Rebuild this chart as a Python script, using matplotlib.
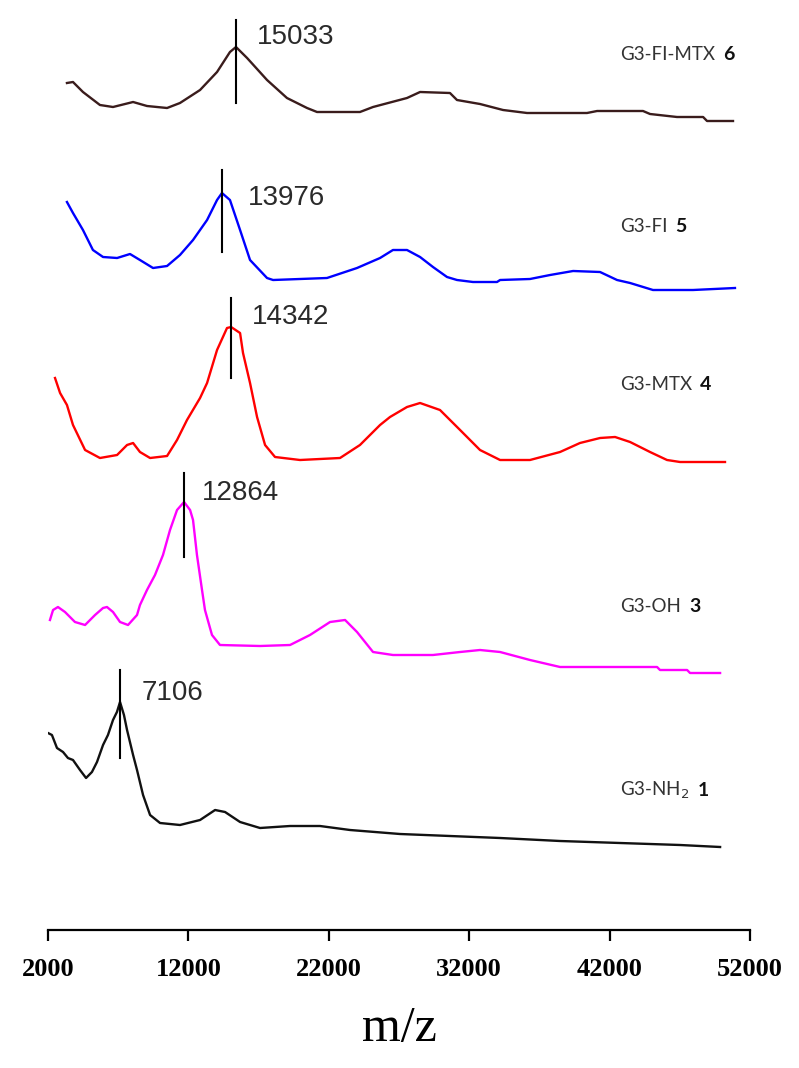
import matplotlib
matplotlib.use("Agg")
import matplotlib.pyplot as plt

# m/z and relative intensity (arbitrary units above each trace's floor)
mz_6 = [3350, 3780, 4490, 5700, 6630, 8060, 9050, 10480, 11400, 12830, 14040, 14960,
        15390, 16180, 17600, 19020, 20450, 21160, 24220, 25150, 27570, 28500, 30630,
        31130, 32770, 34410, 36120, 40390, 41110, 44380, 44880, 46800, 48660, 48940, 50790]
int_6 = [38, 39, 29, 16, 14, 19, 15, 13, 18, 31, 49, 69,
         74, 63, 41, 23, 13, 9, 9, 14, 23, 29, 28,
         21, 17, 11, 8, 8, 10, 10, 7, 4, 4, 0, 0]

mz_5 = [3350, 3780, 4490, 5200, 5920, 6920, 7840, 8550, 9480, 10480, 11400, 12330,
        13330, 14040, 14390, 14960, 15680, 16390, 17600, 18030, 21870, 24010, 25650,
        26570, 27570, 28500, 29420, 30420, 31130, 32270, 33980, 34200, 36330, 37760,
        39400, 41320, 42530, 43460, 45090, 47940, 50930]
int_5 = [88, 77, 60, 40, 33, 32, 36, 30, 22, 24, 35, 50,
         70, 90, 97, 90, 60, 30, 12, 10, 12, 22, 32,
         40, 40, 33, 23, 13, 10, 8, 8, 10, 11, 15,
         19, 18, 10, 7, 0, 0, 2]

mz_4 = [2500, 2860, 3350, 3780, 4640, 5700, 6920, 7630, 8060, 8550, 9270, 10480,
        11190, 11900, 12830, 13330, 14040, 14750, 15040, 15680, 15890, 16390, 16890,
        17460, 18170, 19950, 22800, 24220, 25650, 26360, 27570, 28500, 29920, 31350,
        32770, 34200, 36330, 38470, 39890, 41320, 42390, 43460, 44880, 46090, 47020, 50220]
int_4 = [84, 69, 57, 37, 12, 4, 7, 17, 19, 10, 4, 6,
         22, 42, 64, 79, 112, 134, 135, 129, 109, 79, 45,
         17, 5, 2, 4, 17, 37, 45, 55, 59, 52, 32,
         12, 2, 2, 10, 19, 24, 25, 20, 10, 2, 0, 0]

mz_3 = [2140, 2360, 2710, 3210, 3920, 4640, 5350, 5920, 6200, 6630, 7130, 7700,
        8340, 8550, 9050, 9620, 10190, 10690, 11190, 11690, 12120, 12330, 12610,
        12970, 13180, 13680, 14250, 17100, 19240, 20660, 22090, 23160, 24010, 25150,
        26570, 29420, 31350, 32770, 34200, 36330, 38470, 45380, 45590, 47520, 47730, 49870]
int_3 = [53, 63, 66, 61, 51, 48, 58, 65, 66, 61, 51, 48,
         58, 68, 83, 98, 118, 143, 163, 171, 163, 153, 118,
         83, 63, 38, 28, 27, 28, 38, 51, 53, 41, 21,
         18, 18, 21, 23, 21, 13, 6, 6, 3, 3, 0, 0]

mz_1 = [2000, 2280, 2640, 3070, 3420, 3780, 4280, 4710, 5130, 5490, 5920, 6270,
        6630, 6910, 7130, 7410, 7630, 8060, 8340, 8770, 9270, 9980, 11400, 12830,
        13900, 14610, 15680, 17100, 19240, 21370, 23510, 27070, 30630, 34200, 38470,
        42740, 47020, 49870]
int_1 = [114, 112, 99, 95, 89, 87, 77, 69, 75, 85, 102, 112,
         127, 135, 145, 132, 117, 92, 77, 52, 32, 24, 22, 27,
         37, 35, 25, 19, 21, 21, 17, 13, 11, 9, 6,
         4, 2, 0]

peak_labels = ["15033", "13976", "14342", "12864", "7106"]
peak_pos = [15390, 14390, 15035, 11690, 7130]
names = ["G3-FI-MTX", "G3-FI", "G3-MTX", "G3-OH", "G3-NH$_2$"]
numbers = ["6", "5", "4", "3", "1"]

traces = [(mz_6, int_6), (mz_5, int_5), (mz_4, int_4), (mz_3, int_3), (mz_1, int_1)]
colors = ["#3a1c1c", "#0000ff", "#ff0000", "#ff00ff", "#111111"]
offsets = [809, 640, 468, 257, 83]
mark_span = [(827, 910), (678, 760), (552, 632), (373, 457), (172, 260)]
label_xy = [(16880, 893), (16250, 732), (16530, 613), (12970, 437), (8700, 237)]
name_y = [875, 703, 545, 323, 140]

fig = plt.figure(figsize=(7.99, 10.68), dpi=100)
ax = fig.add_axes([48 / 799, 138 / 1068, 702 / 799, 930 / 1068])
ax.set_xlim(2000, 52000)
ax.set_ylim(0, 930)

for (mz, inten), c, off in zip(traces, colors, offsets):
    ax.plot(mz, [v + off for v in inten], color=c, lw=1.7)

for x, (y0, y1), lab, (lx, ly) in zip(peak_pos, mark_span, peak_labels, label_xy):
    ax.plot([x, x], [y0, y1], color="black", lw=1.5)
    ax.text(lx, ly, lab, fontsize=20, family="Liberation Sans", color="#2a2a2a",
            va="center", ha="left")

fig.canvas.draw()
renderer = fig.canvas.get_renderer()
for nm, num, y in zip(names, numbers, name_y):
    t = ax.text(42740, y, nm, fontsize=13.5, family="Lato", color="#333333",
                va="center", ha="left")
    bb = t.get_window_extent(renderer=renderer)
    x_end = ax.transData.inverted().transform((bb.x1 + 8, 0))[0]
    ax.text(x_end, y, num, fontsize=14, family="Lato", weight="bold",
            color="#111111", va="center", ha="left")

for s in ["top", "right", "left"]:
    ax.spines[s].set_visible(False)
ax.spines["bottom"].set_linewidth(1.6)
ax.set_yticks([])
ax.set_xticks([2000, 12000, 22000, 32000, 42000, 52000])
ax.tick_params(axis="x", direction="out", length=8, width=1.6, pad=12)
for lbl in ax.get_xticklabels():
    lbl.set_family("Liberation Serif")
    lbl.set_fontsize(19)
    lbl.set_weight("bold")
ax.set_xlabel("m/z", family="Liberation Serif", fontsize=36, labelpad=18)

fig.savefig("out.png", dpi=100)
